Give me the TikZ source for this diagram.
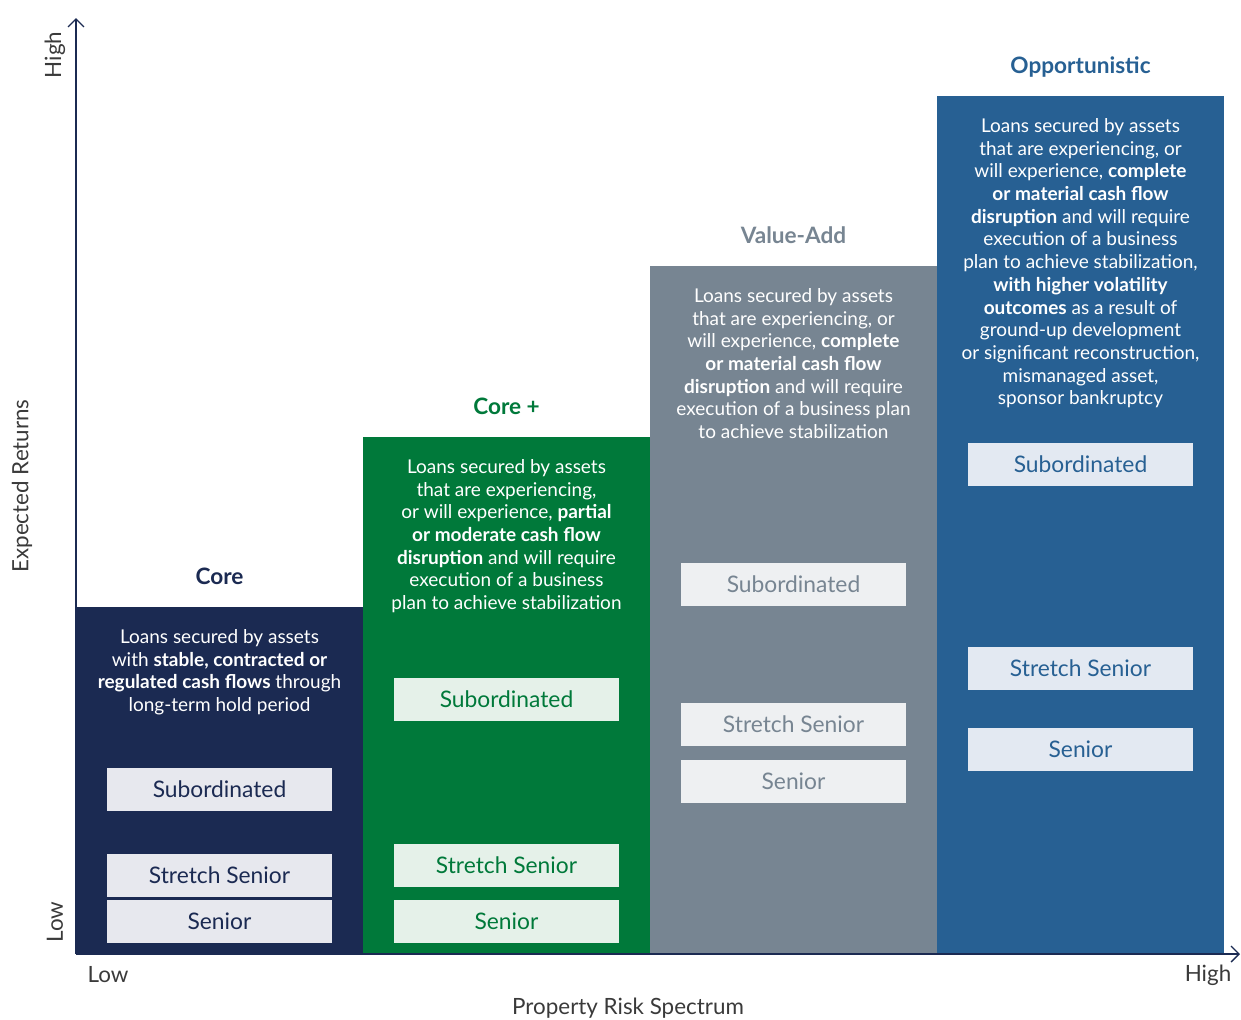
\documentclass[tikz,border=0pt]{standalone}
\usepackage{fontspec}
\setmainfont{Lato}
\usetikzlibrary{positioning, arrows.meta}

\definecolor{corenavy}{HTML}{1B2A52}
\definecolor{coregreen}{HTML}{00793A}
\definecolor{vagray}{HTML}{778592}
\definecolor{oppblue}{HTML}{276093}
\definecolor{navylight}{HTML}{E7E8EE}
\definecolor{greenlight}{HTML}{E5F1E9}
\definecolor{graylight}{HTML}{EEF0F2}
\definecolor{bluelight}{HTML}{E3E9F2}
\definecolor{axgray}{HTML}{3A3A3A}

\begin{document}
\begin{tikzpicture}[
  x=0.5pt, y=-0.5pt,
  every node/.style={font=\fontsize{10}{12}\selectfont},
  col/.style={anchor=south west, minimum width=143.5pt, inner sep=0pt, outer sep=0pt},
  title/.style={anchor=base, inner sep=0pt, font=\fontsize{11.3}{13}\selectfont\bfseries},
  desc/.style={anchor=north, align=center, text=white, inner sep=0pt,
    font=\fontsize{9.5}{11.35}\selectfont},
  tier/.style={minimum width=112.5pt, minimum height=21.5pt, inner sep=0pt,
    font=\fontsize{11.4}{13}\selectfont},
  axis/.style={-{Straight Barb[length=4pt, width=8pt]}, draw=corenavy, line width=0.7pt},
  axlabel/.style={text=axgray, font=\fontsize{11.2}{13}\selectfont}
]
  \useasboundingbox (0,0) rectangle (1241,1019);

  % strategy columns, rising from left to right
  \node[col, fill=corenavy,  minimum height=173.5pt] (core)     at (76,954)  {};
  \node[col, fill=coregreen, minimum height=258.5pt] (coreplus) at (363,954) {};
  \node[col, fill=vagray,    minimum height=344pt]   (valueadd) at (650,954) {};
  \node[col, fill=oppblue,   minimum height=429pt]   (opport)   at (937,954) {};

  % column headings
  \node[title, text=corenavy]  (core-title)     at ([yshift=11.5pt]core.north)     {Core};
  \node[title, text=coregreen] (coreplus-title) at ([yshift=11.5pt]coreplus.north) {Core +};
  \node[title, text=vagray]    (valueadd-title) at ([yshift=11.5pt]valueadd.north) {Value-Add};
  \node[title, text=oppblue]   (opport-title)   at ([yshift=11.5pt]opport.north)   {Opportunistic};

  % descriptions
  \node[desc] (core-desc) at ([yshift=-11pt]core.north)
    {Loans secured by assets\\ with \textbf{stable, contracted or}\\
     \textbf{regulated cash flows} through\\ long-term hold period};
  \node[desc] (coreplus-desc) at ([yshift=-11pt]coreplus.north)
    {Loans secured by assets\\ that are experiencing,\\ or will experience, \textbf{partial}\\
     \textbf{or moderate cash flow}\\ \textbf{disruption} and will require\\
     execution of a business\\ plan to achieve stabilization};
  \node[desc] (valueadd-desc) at ([yshift=-11pt]valueadd.north)
    {Loans secured by assets\\ that are experiencing, or\\ will experience, \textbf{complete}\\
     \textbf{or material cash flow}\\ \textbf{disruption} and will require\\
     execution of a business plan\\ to achieve stabilization};
  \node[desc] (opport-desc) at ([yshift=-11pt]opport.north)
    {Loans secured by assets\\ that are experiencing, or\\ will experience, \textbf{complete}\\
     \textbf{or material cash flow}\\ \textbf{disruption} and will require\\
     execution of a business\\ plan to achieve stabilization,\\
     \textbf{with higher volatility}\\ \textbf{outcomes} as a result of\\
     ground-up development\\ or significant reconstruction,\\
     mismanaged asset,\\ sponsor bankruptcy};

  % loan tiers
  \node[tier, fill=navylight, text=corenavy] (core-sub)     at (219.5,789.5) {Subordinated};
  \node[tier, fill=navylight, text=corenavy] (core-stretch) at (219.5,875.5) {Stretch Senior};
  \node[tier, fill=navylight, text=corenavy] (core-senior)  at (219.5,921.5) {Senior};

  \node[tier, fill=greenlight, text=coregreen] (coreplus-sub)     at (506.5,699.5) {Subordinated};
  \node[tier, fill=greenlight, text=coregreen] (coreplus-stretch) at (506.5,865.5) {Stretch Senior};
  \node[tier, fill=greenlight, text=coregreen] (coreplus-senior)  at (506.5,921.5) {Senior};

  \node[tier, fill=graylight, text=vagray] (valueadd-sub)     at (793.5,584.5) {Subordinated};
  \node[tier, fill=graylight, text=vagray] (valueadd-stretch) at (793.5,724.5) {Stretch Senior};
  \node[tier, fill=graylight, text=vagray] (valueadd-senior)  at (793.5,781.5) {Senior};

  \node[tier, fill=bluelight, text=oppblue] (opport-sub)     at (1080.5,464.5) {Subordinated};
  \node[tier, fill=bluelight, text=oppblue] (opport-stretch) at (1080.5,668.5) {Stretch Senior};
  \node[tier, fill=bluelight, text=oppblue] (opport-senior)  at (1080.5,749.5) {Senior};

  % axes
  \coordinate (origin) at (76,954);
  \coordinate (ytip)   at (76,18);
  \coordinate (xtip)   at (1240,954);
  \draw[axis] (origin) -- (ytip);
  \draw[axis] (origin) -- (xtip);

  \node[axlabel, rotate=90] (y-high)  at (55,55)  {High};
  \node[axlabel, rotate=90] (y-low)   at (55,922) {Low};
  \node[axlabel, rotate=90] (y-title) at (22,486) {Expected Returns};
  \node[axlabel] (x-low)   at (108,975)  {Low};
  \node[axlabel] (x-high)  at (1208,975) {High};
  \node[axlabel] (x-title) at (628,1008) {Property Risk Spectrum};
\end{tikzpicture}
\end{document}
